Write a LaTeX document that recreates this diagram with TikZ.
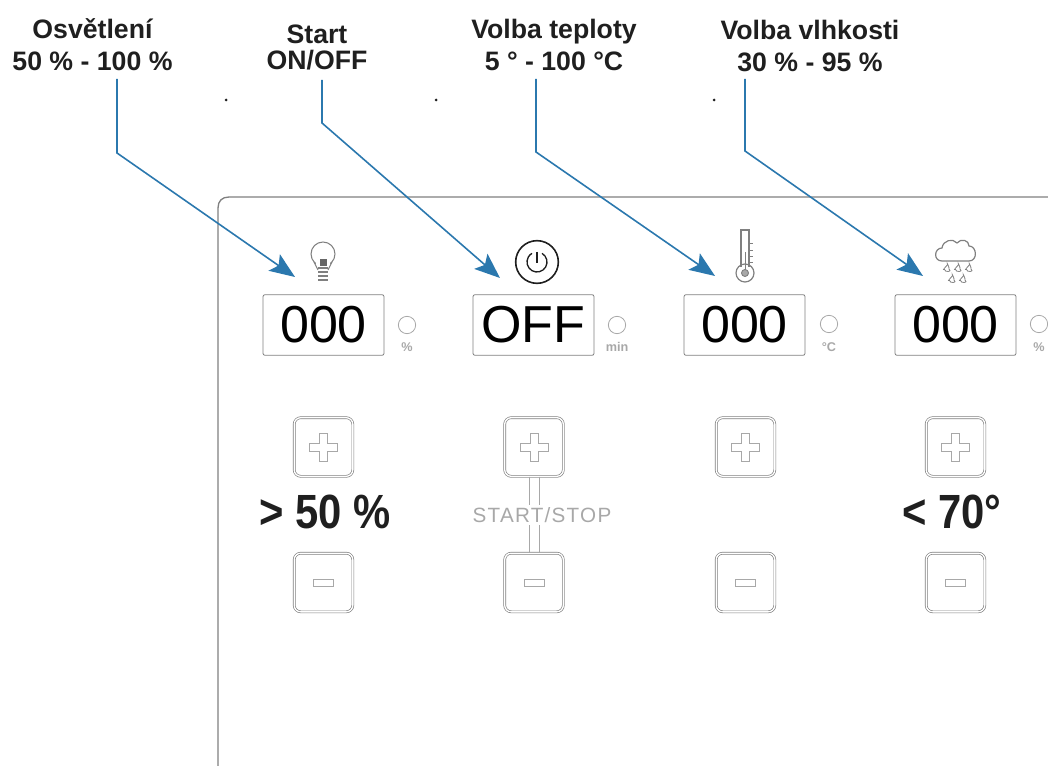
\documentclass[tikz,border=0pt]{standalone}
\usepackage{fontspec}
\usepackage{graphicx}
\setmainfont{Liberation Sans}
\usetikzlibrary{arrows.meta}
\definecolor{bluearrow}{HTML}{2B78AE}
\definecolor{panelgrey}{HTML}{808080}
\definecolor{soft}{HTML}{A8A8A8}
\definecolor{ink}{HTML}{1F1F1F}
\tikzset{
  x=0.75pt,y=-0.75pt,
  toplabel/.style={font=\fontsize{20}{24}\selectfont\bfseries,text=ink,align=center,inner sep=0pt},
  display/.style={draw=panelgrey,line width=0.6pt,rounded corners=1.5pt,minimum width=90.75pt,minimum height=45.5pt,inner sep=0pt,font=\fontsize{39}{39}\selectfont,text=black},
  led/.style={circle,draw=soft,line width=0.6pt,minimum size=13pt,inner sep=0pt},
  unitlabel/.style={font=\fontsize{9.5}{10}\selectfont\bfseries,text=soft,inner sep=0pt},
  keybtn/.style={draw=panelgrey,line width=0.5pt,rounded corners=5pt,minimum size=44pt,inner sep=0pt,double=white,double distance=1pt},
  callout/.style={draw=bluearrow,line width=1.2pt,-{Stealth[length=19pt,width=15pt,inset=4pt]}},
  bigtext/.style={font=\fontsize{36}{36}\selectfont\bfseries,text=ink,inner sep=0pt},
  icon/.style={draw=panelgrey,line width=0.7pt},
  glyph/.style={draw=soft,line width=0.7pt}
}
\newcommand{\plusglyph}[1]{\draw[glyph] (#1) ++(-4,-14) -- ++(8,0) -- ++(0,10) -- ++(10,0) -- ++(0,8) -- ++(-10,0) -- ++(0,10) -- ++(-8,0) -- ++(0,-10) -- ++(-10,0) -- ++(0,-8) -- ++(10,0) -- cycle;}
\newcommand{\minusglyph}[1]{\draw[glyph] (#1) ++(-10,-3.5) rectangle ++(20,7);}
\newcommand{\dropglyph}[1]{\draw[icon,line width=0.6pt] (#1) ++(2.5,-4.5) .. controls ++(-1,2) and ++(-3,1) .. ++(-3,5) .. controls ++(0,3) and ++(4,3) .. ++(4.5,-0.5) .. controls ++(0.5,-1.5) and ++(-1,-3) .. ++(-1.5,-4.5);}
\begin{document}
\begin{tikzpicture}
\useasboundingbox (0,0) rectangle (1048,766);
% panel
\draw[draw=panelgrey,line width=1pt] (218,766) -- (218,208) .. controls (218,201) and (222,197) .. (229,197) -- (1048,197);
% top labels
\node[toplabel] (l1) at (92.5,44.5) {Osvětlení\\[0pt]50 \% - 100 \%};
\node[toplabel] (l2) at (317,47) {Start\\[-4.5pt]ON/OFF};
\node[toplabel] (l3) at (554,44.5) {Volba teploty\\[0pt]5 ° - 100 °C};
\node[toplabel] (l4) at (810,46) {Volba vlhkosti\\[0pt]30 \% - 95 \%};
% small dots
\fill[ink] (226,100) circle (1.5) (436,100) circle (1.5) (714,100) circle (1.5);
% displays
\node[display] (d1) at (323.5,325) {000};
\node[display] (d2) at (533.5,325) {OFF};
\node[display] (d3) at (744.5,325) {000};
\node[display] (d4) at (955.5,325) {000};
% leds
\node[led] (e1) at (407,325) {};
\node[led] (e2) at (617,325) {};
\node[led] (e3) at (829,324) {};
\node[led] (e4) at (1039,324) {};
\node[unitlabel] (u1) at (407,347) {\%};
\node[unitlabel] (u2) at (617,347) {min};
\node[unitlabel] (u3) at (829,347) {°C};
\node[unitlabel,anchor=west] (u4) at (1033,347) {\%};
% buttons
\foreach \n/\x in {1/323.5,2/534,3/745.5,4/955.5}{
  \node[keybtn] (p\n) at (\x,447) {};
  \node[keybtn] (m\n) at (\x,582.5) {};
  \plusglyph{p\n.center}
  \minusglyph{m\n.center}
}
% start stop
\node[font=\fontsize{15.5}{16}\selectfont,text=soft,inner sep=0pt] (ss) at (542,515) {\addfontfeature{LetterSpace=6}START/STOP};
\draw[glyph] ([xshift=-3.75pt]p2.south) -- ([xshift=-3.75pt,yshift=1.5pt]ss.north -| p2.south);
\draw[glyph] ([xshift=3.75pt]p2.south) -- ([xshift=3.75pt,yshift=1.5pt]ss.north -| p2.south);
\draw[glyph] ([xshift=-3.75pt]m2.north) -- ([xshift=-3.75pt,yshift=-1.5pt]ss.south -| m2.north);
\draw[glyph] ([xshift=3.75pt]m2.north) -- ([xshift=3.75pt,yshift=-1.5pt]ss.south -| m2.north);
% big text
\node[bigtext] (b1) at (325,512) {\scalebox{0.87}[1]{> 50 \%}};
\node[bigtext] (b2) at (952,512) {\scalebox{0.87}[1]{< 70°}};
% bulb icon
\node[circle,draw=panelgrey,line width=0.8pt,minimum size=18pt,inner sep=0pt,fill=white] (bulb) at (323,254) {};
\fill[white] (316,262) rectangle (330,270);
\draw[icon] (314,262) -- (318,270) (332,262) -- (328,270);
\foreach \yy in {268,272,276,280}{\draw[icon,line width=1pt] (318,\yy) -- (328,\yy);}
\fill[black!60] (320,259) rectangle (327,266);
% power icon
\node[circle,draw=ink,line width=1.2pt,minimum size=32pt,inner sep=0pt] (pow) at (537,262) {};
\draw[ink,line width=1pt] (pow.center) ++(5,-8.66) arc[start angle=-60,end angle=240,radius=10];
\draw[ink,line width=1pt] (537,252) -- (537,263);
% thermometer icon
\node[circle,draw=panelgrey,line width=0.9pt,minimum size=13.5pt,inner sep=0pt] (therm) at (745,273) {};
\draw[icon,line width=0.9pt] (741,267) -- (741,230) -- (749,230) -- (749,267);
\draw[icon,fill=soft] (745,273) circle (3.5);
\draw[icon] (745,252) -- (745,270);
\foreach \yy in {243,250,256,262}{\draw[icon] (749,\yy) -- (753,\yy);}
% cloud icon
\draw[icon,line width=0.9pt] (942,261) .. controls (933,261) and (934,248) .. (942,248)
  .. controls (943,240) and (953,238) .. (957,243)
  .. controls (961,238) and (969,240) .. (969,246)
  .. controls (977,246) and (978,261) .. (969,261) -- cycle;
\foreach \dx/\dy in {945/269,956/269,967/269,950/280,961/280}{\dropglyph{\dx,\dy}}
% callouts
\coordinate (c1) at (117,153); \coordinate (t1) at (295,277); \coordinate (s1) at (117,79);
\coordinate (c2) at (322,123); \coordinate (t2) at (500,278); \coordinate (s2) at (322,80);
\coordinate (c3) at (536,152); \coordinate (t3) at (715,276); \coordinate (s3) at (536,79);
\coordinate (c4) at (745,151); \coordinate (t4) at (923,276); \coordinate (s4) at (745,79);
\draw[callout] (s1) -- (c1) -- (t1);
\draw[callout] (s2) -- (c2) -- (t2);
\draw[callout] (s3) -- (c3) -- (t3);
\draw[callout] (s4) -- (c4) -- (t4);
\end{tikzpicture}
\end{document}
